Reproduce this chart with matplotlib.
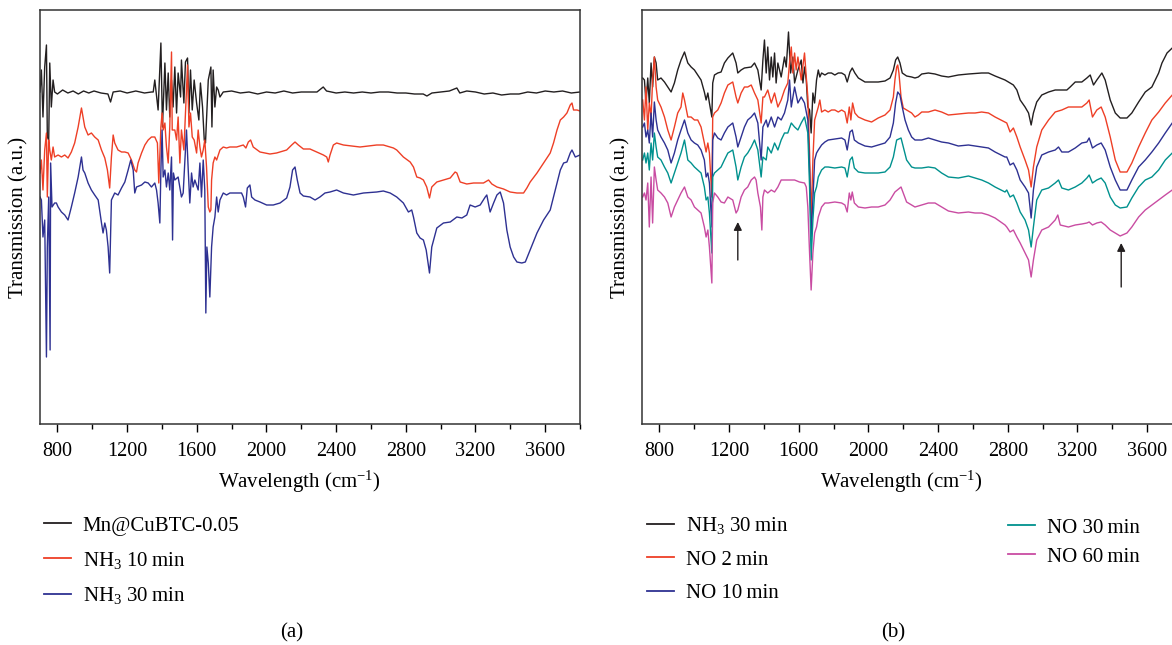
import matplotlib
matplotlib.use("Agg")
import matplotlib.pyplot as plt
import numpy as np
from matplotlib.lines import Line2D

plt.rcParams['font.family'] = ['Liberation Serif', 'DejaVu Serif']
plt.rcParams['mathtext.fontset'] = 'custom'
plt.rcParams['mathtext.rm'] = 'Liberation Serif'
plt.rcParams['mathtext.it'] = 'Liberation Serif:italic'

# ---- panel (a): (wavenumber cm-1, transmission a.u.)
a_base = [(700, 332), (708, 354), (717, 307), (727, 357), (737, 379), (742, 287), (750, 284),
          (756, 361), (765, 317), (775, 344), (784, 332), (800, 330), (830, 334), (860, 331),
          (890, 333), (920, 330), (950, 333), (980, 331), (1010, 333), (1050, 331), (1090, 330),
          (1105, 322), (1120, 332), (1160, 333), (1200, 331), (1250, 333), (1300, 331),
          (1340, 332), (1350, 332), (1359, 344), (1378, 314), (1394, 381), (1403, 297),
          (1417, 361), (1426, 314), (1436, 351), (1445, 307), (1455, 344), (1464, 317),
          (1474, 357), (1484, 311), (1493, 351), (1507, 327), (1512, 364), (1526, 321),
          (1535, 362), (1547, 366), (1555, 311), (1564, 354), (1574, 314), (1585, 344),
          (1599, 321), (1612, 304), (1621, 341), (1633, 317), (1643, 284), (1650, 281),
          (1666, 344), (1681, 357), (1687, 297), (1694, 354), (1704, 317), (1714, 337),
          (1723, 334), (1733, 327), (1752, 332), (1800, 333), (1850, 331), (1900, 332),
          (1950, 330), (2000, 332), (2050, 331), (2100, 333), (2150, 331), (2200, 332),
          (2290, 332), (2326, 337), (2345, 333), (2400, 331), (2450, 332), (2500, 331),
          (2550, 332), (2600, 331), (2650, 332), (2700, 332), (2750, 331), (2800, 331),
          (2850, 330), (2900, 330), (2921, 328), (2950, 331), (3000, 332), (3050, 333),
          (3093, 336), (3110, 331), (3150, 333), (3200, 332), (3250, 330), (3300, 331),
          (3350, 329), (3400, 330), (3450, 330), (3500, 332), (3550, 331), (3600, 333),
          (3650, 332), (3700, 333), (3750, 331), (3800, 332)]

a_nh3_10 = [(700, 251), (708, 264), (717, 234), (727, 274), (737, 291), (742, 227), (750, 284),
            (756, 274), (765, 264), (775, 277), (784, 267), (804, 269), (823, 267), (842, 269),
            (861, 266), (880, 272), (899, 281), (919, 297), (938, 316), (957, 297), (976, 289),
            (995, 291), (1014, 287), (1034, 284), (1053, 274), (1072, 266), (1087, 254),
            (1100, 236), (1110, 267), (1120, 289), (1129, 281), (1148, 274), (1168, 272),
            (1187, 272), (1206, 271), (1225, 264), (1244, 254), (1254, 252), (1263, 261),
            (1283, 271), (1302, 279), (1321, 284), (1340, 287), (1359, 287), (1374, 281),
            (1382, 241), (1394, 297), (1401, 311), (1407, 294), (1417, 301), (1426, 277),
            (1436, 261), (1445, 297), (1455, 372), (1459, 294), (1474, 294), (1484, 284),
            (1493, 307), (1503, 261), (1512, 294), (1526, 274), (1535, 311), (1547, 359),
            (1555, 297), (1564, 311), (1574, 287), (1585, 284), (1599, 271), (1608, 294),
            (1618, 277), (1627, 267), (1637, 274), (1646, 284), (1656, 257), (1666, 217),
            (1675, 212), (1681, 214), (1685, 244), (1694, 261), (1704, 267), (1714, 264),
            (1733, 274), (1752, 277), (1771, 276), (1790, 277), (1829, 277), (1867, 279),
            (1882, 276), (1896, 282), (1909, 284), (1924, 277), (1963, 272), (2020, 270),
            (2058, 271), (2116, 274), (2145, 279), (2164, 282), (2183, 279), (2212, 275),
            (2250, 275), (2288, 272), (2327, 269), (2346, 267), (2355, 262), (2365, 269),
            (2384, 279), (2403, 281), (2442, 279), (2537, 277), (2633, 279), (2671, 279),
            (2729, 276), (2748, 274), (2786, 267), (2825, 262), (2844, 257), (2863, 247),
            (2882, 246), (2901, 244), (2920, 237), (2936, 226), (2949, 237), (2978, 242),
            (3016, 244), (3055, 246), (3083, 252), (3093, 251), (3112, 242), (3150, 240),
            (3189, 241), (3246, 241), (3275, 244), (3294, 240), (3323, 237), (3361, 235),
            (3399, 232), (3438, 231), (3476, 231), (3495, 236), (3514, 242), (3553, 251),
            (3591, 261), (3629, 271), (3648, 281), (3668, 294), (3687, 304), (3706, 307),
            (3725, 311), (3744, 319), (3754, 321), (3763, 314), (3783, 314), (3800, 313)]

a_nh3_30 = [(700, 227), (708, 224), (717, 187), (727, 204), (737, 67), (742, 177), (750, 227),
            (758, 74), (761, 261), (769, 217), (784, 221), (794, 221), (804, 217), (823, 212),
            (842, 209), (861, 204), (880, 217), (899, 231), (919, 247), (938, 267), (947, 254),
            (957, 251), (976, 241), (995, 234), (1014, 229), (1034, 224), (1053, 201),
            (1062, 191), (1072, 201), (1081, 194), (1091, 177), (1100, 151), (1110, 224),
            (1129, 231), (1148, 229), (1168, 236), (1187, 242), (1206, 254), (1221, 264),
            (1235, 254), (1244, 231), (1254, 237), (1283, 239), (1302, 242), (1321, 241),
            (1340, 237), (1359, 241), (1369, 234), (1378, 221), (1388, 201), (1394, 254),
            (1401, 294), (1407, 247), (1417, 254), (1426, 237), (1436, 251), (1445, 234),
            (1455, 267), (1461, 184), (1466, 251), (1474, 244), (1493, 247), (1512, 227),
            (1522, 231), (1531, 261), (1541, 294), (1551, 254), (1560, 221), (1570, 251),
            (1579, 237), (1589, 244), (1608, 234), (1618, 261), (1627, 227), (1637, 264),
            (1646, 234), (1652, 111), (1658, 177), (1666, 161), (1675, 127), (1685, 177),
            (1694, 197), (1704, 207), (1714, 227), (1723, 212), (1733, 224), (1752, 231),
            (1771, 229), (1790, 231), (1829, 231), (1857, 231), (1867, 227), (1880, 217),
            (1890, 236), (1905, 239), (1915, 227), (1934, 224), (1963, 222), (2001, 219),
            (2039, 219), (2078, 221), (2116, 226), (2135, 237), (2150, 254), (2164, 257),
            (2177, 244), (2193, 231), (2212, 228), (2250, 227), (2279, 224), (2307, 227),
            (2336, 231), (2365, 232), (2403, 234), (2442, 231), (2499, 229), (2557, 231),
            (2633, 232), (2671, 233), (2710, 231), (2748, 227), (2786, 221), (2815, 212),
            (2834, 214), (2844, 207), (2863, 191), (2882, 186), (2901, 184), (2917, 174),
            (2936, 151), (2949, 177), (2978, 196), (3016, 201), (3055, 202), (3093, 207),
            (3122, 206), (3150, 209), (3169, 219), (3198, 217), (3227, 219), (3256, 227),
            (3265, 229), (3284, 212), (3304, 221), (3323, 229), (3342, 232), (3361, 221),
            (3380, 194), (3399, 177), (3419, 167), (3438, 162), (3466, 161), (3486, 162),
            (3514, 174), (3553, 191), (3591, 204), (3629, 214), (3658, 234), (3687, 254),
            (3706, 261), (3725, 262), (3744, 271), (3754, 274), (3773, 267), (3800, 269)]

# ---- panel (b)
b_nh3_30 = [(704, 346), (714, 344), (723, 321), (733, 346), (742, 321), (752, 361), (761, 337),
            (771, 367), (781, 361), (790, 344), (809, 346), (829, 342), (848, 337), (867, 332),
            (886, 341), (905, 354), (924, 364), (944, 372), (963, 361), (982, 357), (1001, 354),
            (1020, 349), (1039, 344), (1058, 332), (1068, 324), (1078, 331), (1087, 321),
            (1101, 307), (1106, 341), (1116, 349), (1135, 351), (1154, 352), (1173, 361),
            (1193, 366), (1221, 371), (1240, 361), (1250, 351), (1269, 354), (1288, 356),
            (1327, 357), (1346, 361), (1365, 354), (1384, 334), (1394, 364), (1403, 384),
            (1413, 351), (1422, 377), (1432, 344), (1442, 367), (1451, 347), (1461, 371),
            (1470, 341), (1480, 361), (1499, 347), (1518, 367), (1528, 357), (1541, 392),
            (1553, 351), (1566, 367), (1576, 341), (1595, 354), (1614, 364), (1624, 341),
            (1633, 357), (1643, 344), (1652, 317), (1662, 314), (1671, 291), (1681, 331),
            (1691, 321), (1702, 344), (1712, 354), (1721, 347), (1731, 351), (1750, 349),
            (1769, 351), (1788, 351), (1807, 349), (1827, 351), (1846, 351), (1865, 349),
            (1878, 342), (1894, 352), (1907, 356), (1922, 351), (1942, 346), (1980, 342),
            (2018, 342), (2056, 342), (2095, 343), (2124, 346), (2143, 354), (2156, 364),
            (2168, 367), (2181, 361), (2194, 351), (2219, 348), (2248, 347), (2267, 346),
            (2286, 347), (2306, 350), (2344, 351), (2382, 350), (2420, 348), (2459, 347),
            (2516, 349), (2574, 350), (2650, 351), (2689, 351), (2727, 348), (2784, 344),
            (2794, 343), (2813, 341), (2832, 339), (2852, 334), (2871, 324), (2899, 317),
            (2919, 311), (2934, 299), (2947, 311), (2966, 322), (2995, 329), (3034, 332),
            (3072, 334), (3110, 334), (3139, 334), (3158, 337), (3187, 342), (3225, 342),
            (3254, 346), (3273, 349), (3292, 339), (3311, 344), (3340, 351), (3359, 344),
            (3388, 324), (3417, 311), (3445, 306), (3484, 306), (3512, 311), (3551, 322),
            (3589, 332), (3627, 337), (3666, 351), (3685, 361), (3714, 371), (3744, 376)]

b_no_2 = [(704, 324), (714, 304), (723, 337), (733, 294), (742, 321), (752, 307), (761, 344),
          (771, 367), (781, 337), (790, 324), (809, 317), (829, 307), (848, 294), (867, 284),
          (886, 297), (905, 311), (924, 317), (934, 331), (944, 324), (963, 307), (982, 307),
          (1001, 304), (1020, 304), (1039, 297), (1058, 281), (1068, 272), (1078, 281),
          (1087, 271), (1101, 227), (1106, 307), (1116, 311), (1135, 314), (1154, 321),
          (1173, 331), (1193, 339), (1221, 342), (1240, 327), (1250, 321), (1269, 331),
          (1288, 337), (1307, 337), (1327, 339), (1346, 331), (1365, 324), (1384, 301),
          (1394, 327), (1403, 327), (1422, 334), (1442, 321), (1461, 331), (1480, 317),
          (1499, 324), (1518, 334), (1537, 341), (1547, 361), (1557, 377), (1566, 351),
          (1576, 371), (1585, 354), (1595, 367), (1614, 344), (1633, 371), (1643, 347),
          (1652, 327), (1662, 271), (1671, 204), (1681, 264), (1691, 304), (1702, 311),
          (1712, 317), (1721, 324), (1731, 312), (1750, 314), (1769, 312), (1788, 314),
          (1807, 314), (1827, 312), (1846, 314), (1865, 312), (1878, 301), (1890, 317),
          (1899, 304), (1909, 321), (1922, 311), (1942, 307), (1980, 304), (2018, 302),
          (2056, 306), (2095, 309), (2124, 314), (2143, 327), (2152, 344), (2162, 357),
          (2168, 359), (2175, 351), (2187, 327), (2200, 316), (2219, 314), (2248, 311),
          (2267, 307), (2286, 309), (2306, 312), (2344, 312), (2382, 314), (2420, 312),
          (2459, 309), (2516, 310), (2574, 311), (2612, 311), (2650, 312), (2689, 311),
          (2727, 307), (2784, 302), (2794, 301), (2813, 292), (2832, 296), (2852, 287),
          (2871, 277), (2899, 264), (2919, 254), (2934, 237), (2947, 257), (2966, 277),
          (2995, 294), (3034, 304), (3072, 312), (3110, 314), (3148, 317), (3187, 317),
          (3225, 317), (3254, 321), (3267, 324), (3286, 307), (3311, 314), (3336, 317),
          (3359, 307), (3388, 287), (3417, 264), (3445, 252), (3484, 252), (3512, 261),
          (3551, 277), (3589, 291), (3627, 304), (3666, 312), (3704, 321), (3744, 329)]

b_no_10 = [(704, 297), (714, 301), (723, 287), (733, 294), (742, 281), (752, 311), (761, 287),
           (771, 322), (781, 304), (790, 294), (809, 287), (829, 281), (848, 274), (867, 261),
           (886, 271), (905, 284), (924, 294), (944, 304), (963, 291), (982, 284), (1001, 281),
           (1020, 279), (1039, 274), (1058, 264), (1068, 247), (1078, 251), (1087, 241),
           (1101, 197), (1106, 284), (1116, 291), (1135, 286), (1154, 284), (1173, 291),
           (1193, 297), (1221, 301), (1240, 287), (1250, 277), (1269, 287), (1288, 297),
           (1307, 304), (1327, 307), (1346, 311), (1365, 301), (1384, 264), (1394, 297),
           (1413, 304), (1422, 297), (1442, 307), (1461, 297), (1480, 307), (1499, 304),
           (1518, 311), (1537, 324), (1547, 344), (1557, 317), (1576, 337), (1595, 321),
           (1614, 327), (1633, 321), (1652, 304), (1662, 254), (1671, 187), (1681, 224),
           (1691, 264), (1702, 271), (1712, 274), (1731, 279), (1750, 282), (1769, 284),
           (1807, 285), (1846, 286), (1865, 284), (1878, 274), (1894, 292), (1907, 294),
           (1919, 284), (1942, 281), (1980, 278), (2018, 277), (2056, 279), (2095, 281),
           (2124, 287), (2143, 301), (2156, 321), (2168, 332), (2181, 329), (2194, 317),
           (2210, 304), (2229, 294), (2248, 287), (2267, 284), (2306, 284), (2344, 286),
           (2382, 284), (2420, 282), (2459, 281), (2516, 278), (2574, 279), (2612, 278),
           (2650, 277), (2689, 276), (2727, 272), (2784, 267), (2794, 267), (2813, 259),
           (2832, 261), (2852, 254), (2871, 244), (2899, 237), (2919, 231), (2934, 206),
           (2947, 234), (2966, 257), (2995, 269), (3034, 272), (3072, 274), (3091, 277),
           (3110, 272), (3148, 272), (3187, 276), (3225, 281), (3254, 282), (3267, 286),
           (3286, 276), (3311, 279), (3336, 281), (3359, 274), (3388, 257), (3417, 244),
           (3445, 234), (3484, 234), (3512, 244), (3551, 257), (3589, 264), (3627, 272),
           (3666, 281), (3704, 291), (3744, 301)]

b_no_30 = [(704, 264), (714, 271), (723, 261), (733, 271), (742, 254), (752, 281), (761, 264),
           (771, 291), (781, 277), (790, 267), (809, 264), (829, 257), (848, 251), (867, 241),
           (886, 251), (905, 261), (924, 271), (944, 284), (963, 264), (982, 261), (1001, 257),
           (1020, 254), (1039, 251), (1058, 237), (1068, 224), (1078, 227), (1087, 211),
           (1101, 171), (1106, 247), (1116, 251), (1135, 254), (1154, 257), (1173, 264),
           (1193, 271), (1221, 274), (1240, 257), (1250, 244), (1269, 257), (1288, 267),
           (1307, 271), (1327, 277), (1346, 284), (1365, 274), (1384, 247), (1394, 267),
           (1413, 264), (1422, 277), (1442, 271), (1461, 281), (1480, 274), (1499, 284),
           (1518, 291), (1537, 291), (1557, 301), (1576, 297), (1595, 294), (1614, 301),
           (1633, 307), (1652, 291), (1662, 237), (1671, 164), (1681, 204), (1691, 231),
           (1702, 237), (1712, 247), (1731, 254), (1750, 257), (1769, 257), (1807, 256),
           (1846, 257), (1865, 256), (1878, 247), (1894, 264), (1907, 267), (1919, 256),
           (1942, 252), (1980, 251), (2018, 251), (2056, 251), (2095, 252), (2124, 257),
           (2143, 267), (2162, 284), (2187, 286), (2200, 277), (2219, 264), (2248, 257),
           (2267, 256), (2306, 256), (2344, 257), (2382, 256), (2420, 251), (2459, 247),
           (2516, 246), (2574, 248), (2612, 246), (2650, 244), (2689, 241), (2727, 237),
           (2784, 232), (2794, 234), (2813, 227), (2832, 229), (2852, 221), (2871, 212),
           (2899, 204), (2919, 194), (2934, 177), (2947, 197), (2966, 224), (2995, 234),
           (3034, 236), (3072, 241), (3091, 244), (3110, 236), (3148, 234), (3187, 237),
           (3225, 241), (3254, 246), (3267, 249), (3286, 241), (3311, 244), (3336, 246),
           (3359, 241), (3388, 227), (3417, 219), (3445, 216), (3484, 217), (3512, 226),
           (3551, 237), (3589, 244), (3627, 247), (3666, 254), (3704, 264), (3744, 271)]

b_no_60 = [(704, 227), (714, 231), (723, 224), (733, 241), (742, 197), (752, 247), (761, 201),
           (771, 257), (781, 244), (790, 234), (809, 231), (829, 227), (848, 221), (867, 207),
           (886, 217), (905, 224), (924, 231), (944, 237), (963, 227), (982, 224), (1001, 217),
           (1020, 214), (1039, 211), (1058, 197), (1068, 187), (1078, 194), (1087, 177),
           (1101, 141), (1106, 221), (1116, 231), (1135, 227), (1154, 222), (1173, 221),
           (1193, 227), (1221, 224), (1240, 211), (1250, 214), (1269, 227), (1288, 234),
           (1307, 237), (1327, 244), (1346, 247), (1355, 244), (1365, 231), (1380, 217),
           (1388, 194), (1394, 227), (1403, 234), (1422, 231), (1442, 234), (1461, 232),
           (1480, 237), (1499, 244), (1537, 244), (1576, 244), (1604, 242), (1633, 241),
           (1643, 237), (1652, 217), (1662, 171), (1671, 134), (1681, 171), (1691, 191),
           (1702, 197), (1712, 207), (1731, 217), (1750, 221), (1769, 221), (1807, 222),
           (1846, 221), (1865, 219), (1878, 212), (1890, 231), (1899, 224), (1907, 232),
           (1919, 221), (1942, 217), (1980, 216), (2018, 217), (2056, 217), (2095, 219),
           (2124, 224), (2152, 232), (2187, 237), (2200, 231), (2219, 222), (2248, 219),
           (2267, 217), (2306, 219), (2344, 221), (2382, 221), (2420, 217), (2459, 213),
           (2516, 211), (2574, 212), (2612, 211), (2650, 211), (2689, 209), (2727, 206),
           (2784, 199), (2794, 197), (2813, 192), (2832, 194), (2852, 187), (2871, 181),
           (2899, 171), (2919, 164), (2934, 147), (2947, 164), (2966, 184), (2995, 194),
           (3034, 197), (3072, 204), (3087, 209), (3101, 199), (3148, 197), (3187, 199),
           (3225, 200), (3254, 201), (3267, 202), (3286, 199), (3311, 201), (3336, 202),
           (3359, 199), (3388, 194), (3417, 191), (3445, 188), (3484, 191), (3512, 197),
           (3551, 207), (3589, 214), (3627, 219), (3666, 224), (3704, 229), (3744, 234)]

labels_a = ['Mn@CuBTC-0.05', 'NH$_3$ 10\u2009min', 'NH$_3$ 30\u2009min']
labels_b = ['NH$_3$ 30\u2009min', 'NO 2\u2009min', 'NO 10\u2009min', 'NO 30\u2009min', 'NO 60\u2009min']
colors_a = ['#231f20', '#ee3f26', '#2e3192']
colors_b = ['#231f20', '#ee3f26', '#2e3192', '#00918e', '#c94ca2']
arrow_x = [1250, 3451]
arrow_tail = [164, 137]
arrow_head = [202, 181]

fig = plt.figure(figsize=(11.72, 6.45), dpi=100)
W, H = 1172, 645
ax1 = fig.add_axes([40 / W, 1 - 424 / H, 540 / W, 414 / H])
ax2 = fig.add_axes([642 / W, 1 - 424 / H, 540 / W, 414 / H])


def style(ax):
    ax.set_xlim(700, 3800)
    ax.set_ylim(0, 414)
    ax.set_xticks(np.arange(800, 3601, 400))
    ax.set_xticks(np.arange(800, 3801, 200), minor=True)
    ax.tick_params(axis='x', which='major', length=6, width=1, labelsize=14.5, pad=7)
    ax.tick_params(axis='x', which='minor', length=3.5, width=1)
    ax.set_yticks([])
    for s in ax.spines.values():
        s.set_linewidth(1.1)
        s.set_color('#333333')
    ax.set_xlabel('Wavelength (cm$^{-1}$)', fontsize=15)
    ax.set_ylabel('Transmission (a.u.)', fontsize=15)
    ax.xaxis.set_label_coords(0.481, -0.108)
    ax.yaxis.set_label_coords(-0.022, 0.5)


for data, c in zip([a_base, a_nh3_10, a_nh3_30], colors_a):
    d = np.array(data)
    ax1.plot(d[:, 0], d[:, 1], color=c, lw=1.0)
style(ax1)

for data, c in zip([b_nh3_30, b_no_2, b_no_10, b_no_30, b_no_60], colors_b):
    d = np.array(data)
    ax2.plot(d[:, 0], d[:, 1], color=c, lw=1.0)
style(ax2)

for x, t, h in zip(arrow_x, arrow_tail, arrow_head):
    ax2.annotate('', xy=(x, h), xytext=(x, t),
                 arrowprops=dict(arrowstyle='-|>', color='#231f20', lw=1.0,
                                 mutation_scale=12, shrinkA=0, shrinkB=0))

# legends
hs_a = [Line2D([], [], color=c, lw=1.3) for c in colors_a]
hs_b = [Line2D([], [], color=c, lw=1.3) for c in colors_b]
leg_kw = dict(loc='upper left', frameon=False, fontsize=15, handlelength=1.3,
              handletextpad=0.55, borderpad=0, borderaxespad=0, labelspacing=0.68)
fig.legend(hs_a, labels_a, bbox_to_anchor=(44 / W, 1 - 516 / H), **leg_kw)
fig.legend(hs_b[:3], labels_b[:3], bbox_to_anchor=(647 / W, 1 - 515 / H), **leg_kw)
fig.legend(hs_b[3:], labels_b[3:], bbox_to_anchor=(1008 / W, 1 - 518 / H),
           **dict(leg_kw, labelspacing=0.45))

fig.text(292 / W, 1 - 633 / H, '(a)', ha='center', va='center', fontsize=15)
fig.text(893 / W, 1 - 633 / H, '(b)', ha='center', va='center', fontsize=15)

fig.savefig('out.png', dpi=100)
